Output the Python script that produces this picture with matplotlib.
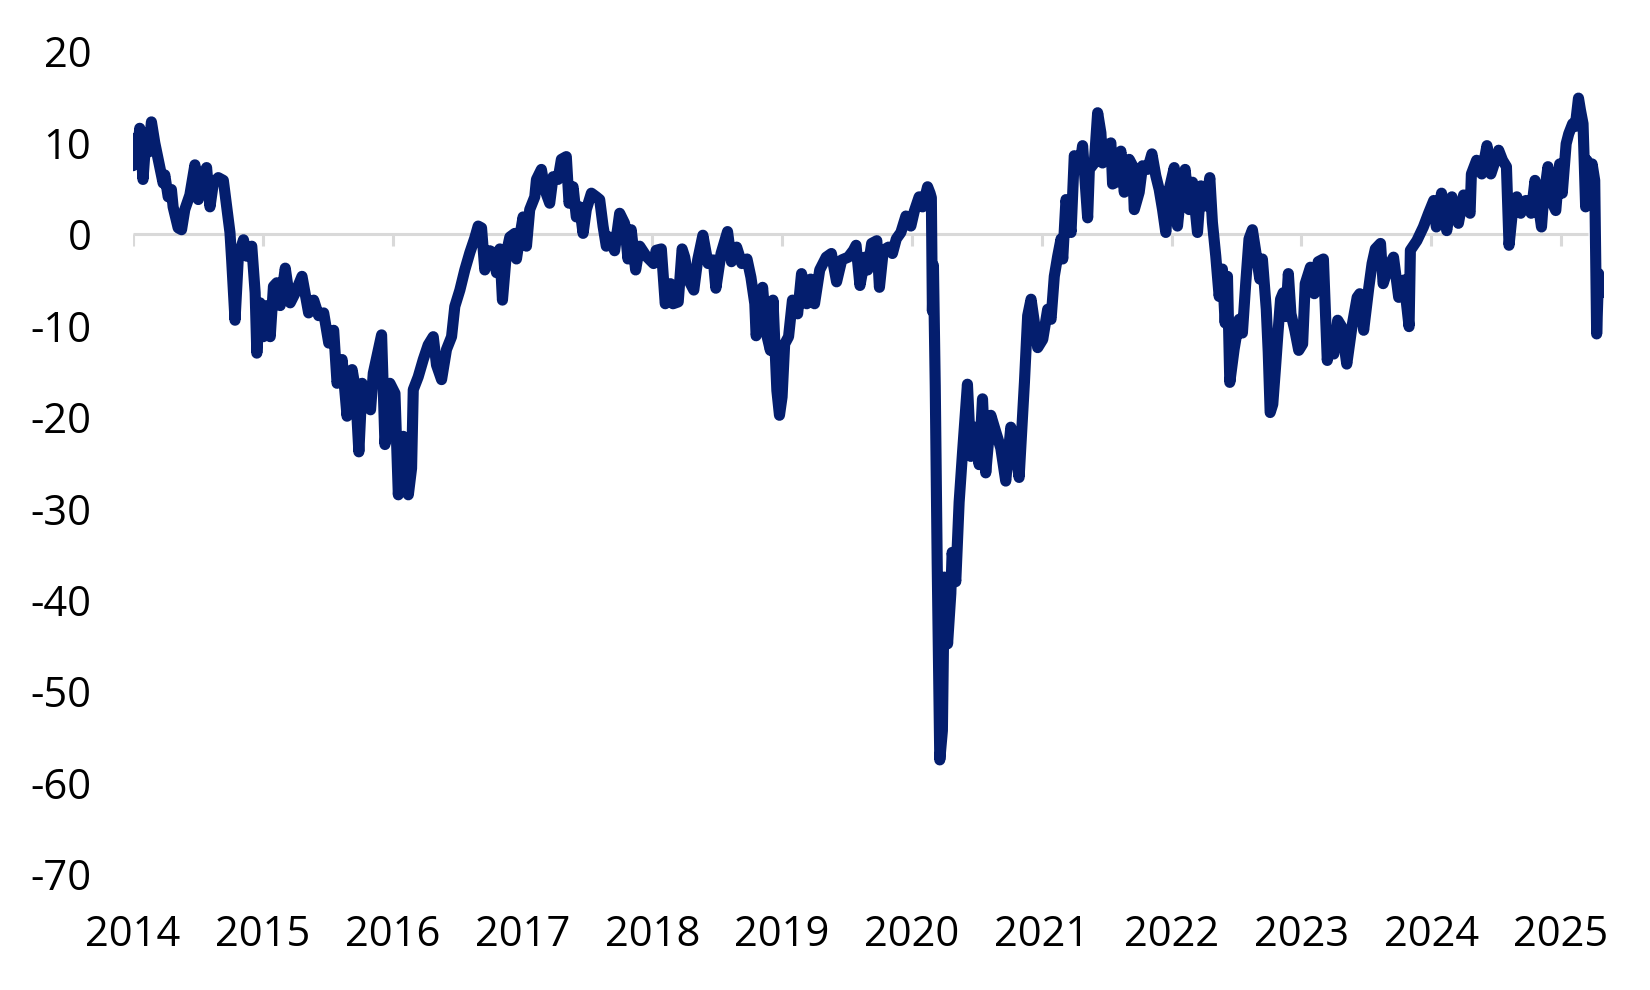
import matplotlib
matplotlib.use('Agg')
import matplotlib.pyplot as plt

plt.rcParams['font.family'] = ['Open Sans', 'DejaVu Sans']
plt.rcParams['axes.unicode_minus'] = False

# year ticks on the category axis
years = list(range(2014, 2026))

# series (decimal year, value)
t = [
    2014.000, 2014.010, 2014.030, 2014.052, 2014.077, 2014.103, 2014.120, 2014.142,
    2014.168, 2014.206, 2014.232, 2014.245, 2014.271, 2014.296, 2014.309, 2014.348,
    2014.374, 2014.399, 2014.438, 2014.477, 2014.503, 2014.528, 2014.567, 2014.593,
    2014.619, 2014.657, 2014.696, 2014.722, 2014.747, 2014.760, 2014.786, 2014.812,
    2014.851, 2014.876, 2014.915, 2014.941, 2014.954, 2014.979, 2015.005, 2015.031,
    2015.057, 2015.082, 2015.108, 2015.134, 2015.173, 2015.211, 2015.250, 2015.302,
    2015.353, 2015.392, 2015.430, 2015.469, 2015.508, 2015.546, 2015.572, 2015.611,
    2015.649, 2015.688, 2015.714, 2015.740, 2015.765, 2015.791, 2015.830,
    2015.851, 2015.915, 2015.941, 2015.979, 2016.018, 2016.044, 2016.060, 2016.082,
    2016.121, 2016.146, 2016.159, 2016.197, 2016.236, 2016.274, 2016.313, 2016.338,
    2016.377, 2016.415, 2016.454, 2016.479, 2016.518, 2016.556, 2016.595, 2016.633,
    2016.659, 2016.685, 2016.710, 2016.749, 2016.774, 2016.800, 2016.826, 2016.846,
    2016.877, 2016.903, 2016.941, 2016.954, 2016.979, 2017.005, 2017.031, 2017.056,
    2017.095, 2017.108, 2017.146, 2017.172, 2017.210, 2017.236, 2017.274, 2017.300,
    2017.338, 2017.359, 2017.390, 2017.415, 2017.441, 2017.467, 2017.492, 2017.531,
    2017.569, 2017.595, 2017.621, 2017.646, 2017.672, 2017.710, 2017.749, 2017.787,
    2017.813, 2017.838, 2017.872, 2017.903, 2017.954,
    2018.010, 2018.030, 2018.070, 2018.100, 2018.140, 2018.160, 2018.200, 2018.230,
    2018.250, 2018.280, 2018.320, 2018.350, 2018.390, 2018.430, 2018.470, 2018.490,
    2018.530, 2018.580, 2018.610, 2018.650, 2018.690, 2018.730, 2018.760, 2018.790,
    2018.800, 2018.830, 2018.850, 2018.880, 2018.910, 2018.930, 2018.960, 2018.980,
    2019.000, 2019.020, 2019.050, 2019.080, 2019.120, 2019.150, 2019.190, 2019.220,
    2019.250, 2019.290, 2019.340, 2019.380, 2019.420, 2019.460, 2019.510, 2019.550,
    2019.570, 2019.600, 2019.640, 2019.660, 2019.690, 2019.730, 2019.750, 2019.780,
    2019.820, 2019.850, 2019.880,
    2019.915, 2019.954, 2019.992, 2020.018, 2020.056, 2020.082, 2020.121, 2020.140,
    2020.150, 2020.158, 2020.166, 2020.180, 2020.195, 2020.215, 2020.235, 2020.250,
    2020.275, 2020.300, 2020.310, 2020.338, 2020.364, 2020.390, 2020.428, 2020.454,
    2020.492, 2020.518, 2020.544, 2020.569, 2020.608, 2020.646, 2020.685, 2020.723,
    2020.762, 2020.787, 2020.826,
    2020.867, 2020.892, 2020.918, 2020.944, 2020.969, 2021.008, 2021.046, 2021.072,
    2021.097, 2021.123, 2021.149, 2021.162, 2021.187, 2021.226, 2021.251, 2021.290,
    2021.315, 2021.354, 2021.367, 2021.405, 2021.431, 2021.456, 2021.469, 2021.495,
    2021.533, 2021.546, 2021.572, 2021.610, 2021.636, 2021.674, 2021.700, 2021.713,
    2021.751, 2021.777, 2021.815, 2021.849, 2021.879, 2021.905, 2021.931, 2021.956,
    2021.982, 2022.021, 2022.046, 2022.072, 2022.105, 2022.136, 2022.162, 2022.200,
    2022.226, 2022.264, 2022.295, 2022.315, 2022.341, 2022.367, 2022.392, 2022.413,
    2022.431, 2022.449, 2022.482, 2022.521, 2022.546, 2022.572, 2022.597, 2022.623,
    2022.650, 2022.680, 2022.700, 2022.730, 2022.745, 2022.760, 2022.780, 2022.800,
    2022.820, 2022.840, 2022.860, 2022.880, 2022.900, 2022.920, 2022.950, 2022.980,
    2023.010, 2023.030,
    2023.070, 2023.100, 2023.130, 2023.170, 2023.200, 2023.220, 2023.250, 2023.280,
    2023.310, 2023.350, 2023.390, 2023.430, 2023.450, 2023.480, 2023.520, 2023.545,
    2023.570, 2023.610, 2023.630, 2023.670, 2023.710, 2023.750, 2023.790, 2023.830,
    2023.840, 2023.890, 2023.940, 2023.980, 2024.020, 2024.040, 2024.080, 2024.120,
    2024.160, 2024.210, 2024.250, 2024.300, 2024.310, 2024.350, 2024.390, 2024.430,
    2024.460, 2024.520, 2024.550, 2024.580, 2024.600, 2024.630, 2024.660, 2024.690,
    2024.730, 2024.770, 2024.800, 2024.850, 2024.865, 2024.900, 2024.925, 2024.960,
    2024.990, 2025.010, 2025.040, 2025.060, 2025.090, 2025.110, 2025.135, 2025.150,
    2025.170, 2025.190, 2025.200, 2025.220, 2025.240, 2025.260, 2025.275, 2025.290,
    2025.300,
]

v = [
    7.5, 10.5, 8.0, 11.6, 6.0, 11.1, 9.0, 12.3,
    10.0, 7.4, 5.6, 6.5, 4.1, 4.9, 3.0, 0.7,
    0.5, 2.7, 4.3, 7.6, 3.8, 6.0, 7.3, 3.0,
    5.6, 6.2, 5.9, 3.0, 0.2, -2.8, -9.4, -2.4,
    -0.6, -2.4, -1.3, -6.4, -13.0, -7.5, -11.2, -7.8,
    -11.2, -5.7, -5.3, -7.8, -3.7, -7.5, -6.4, -4.6,
    -8.6, -7.2, -8.9, -8.6, -11.9, -10.5, -16.3, -13.7,
    -19.9, -14.8, -17.0, -23.8, -16.3, -17.4, -19.2,
    -15.2, -11.0, -23.0, -16.3, -17.4, -28.5, -25.0, -22.1,
    -28.5, -25.6, -17.0, -15.6, -13.7, -12.1, -11.2, -14.3,
    -15.9, -12.6, -11.2, -7.9, -6.1, -3.9, -2.0, -0.4,
    0.9, 0.7, -3.9, -1.8, -2.0, -4.2, -1.6, -7.2,
    -2.0, -0.3, 0.1, -2.7, -0.3, 1.9, -1.3, 2.7,
    4.1, 6.0, 7.1, 4.9, 3.4, 6.3, 6.0, 8.2,
    8.5, 3.4, 5.2, 1.9, 3.0, 0.1, 2.7, 4.5,
    4.1, 3.8, 0.9, -1.3, -0.3, -1.8, 2.3, 1.2,
    -2.7, 0.5, -3.9, -1.3, -2.4,
    -3.2, -1.75, -1.6, -7.6, -5.4, -7.6, -7.4, -1.6,
    -2.5, -5.0, -6.1, -2.8, -0.1, -3.2, -2.8, -5.9,
    -2.1, 0.3, -3.0, -1.4, -3.2, -2.7, -4.7, -7.6,
    -11.1, -9.1, -5.8, -10.9, -12.7, -7.2, -17.1, -19.8,
    -17.8, -12.0, -11.2, -7.2, -8.7, -4.3, -7.6, -4.9,
    -7.6, -3.9, -2.5, -2.1, -5.2, -2.8, -2.5, -1.75,
    -1.2, -5.6, -2.5, -3.9, -1.0, -0.7, -5.8, -1.75,
    -1.4, -2.1, -0.5,
    0.2, 2.0, 0.9, 2.5, 4.1, 3.0, 5.2, 4.5,
    4.0, -8.4, -3.4, -16.6, -36.0, -57.5, -54.3, -37.5,
    -44.8, -39.3, -34.8, -38.0, -29.3, -23.9, -16.4, -24.3,
    -21.1, -25.2, -18.0, -26.1, -19.8, -21.6, -23.4, -27.0,
    -21.1, -22.5, -26.6,
    -16.2, -8.9, -7.1, -9.7, -12.4, -11.5, -8.2, -9.3,
    -4.6, -2.4, -0.5, -2.7, 3.8, 0.2, 8.6, 7.1,
    9.7, 1.8, 7.1, 7.8, 13.3, 11.1, 7.8, 9.7,
    10.0, 5.5, 5.7, 9.1, 4.6, 8.2, 7.5, 2.7,
    4.6, 7.5, 7.1, 8.8, 6.4, 4.9, 2.7, 0.2,
    4.9, 7.3, 0.9, 4.6, 7.1, 2.7, 5.7, 0.2,
    5.3, 3.1, 6.2, 1.3, -2.4, -6.8, -3.8, -9.7,
    -4.6, -16.2, -12.6, -9.3, -10.8, -5.3, -0.5, 0.5,
    -2.0, -4.9, -2.7, -8.2, -12.9, -19.5, -18.6, -14.8,
    -10.8, -7.1, -6.4, -9.0, -4.3, -8.7, -10.5, -12.7,
    -12.0, -5.4,
    -3.6, -6.5, -3.0, -2.7, -13.8, -10.9, -13.1, -9.4,
    -10.1, -14.2, -10.1, -6.9, -6.5, -10.5, -5.8, -3.2,
    -1.6, -1.0, -5.4, -3.6, -2.5, -6.9, -5.0, -10.1,
    -1.75, -0.7, 0.8, 2.3, 3.7, 0.8, 4.5, 0.4,
    4.1, 1.2, 4.3, 2.3, 6.6, 8.1, 6.6, 9.7,
    6.6, 9.2, 8.1, 7.4, -1.2, 3.0, 4.1, 2.3,
    3.7, 2.3, 5.9, 0.8, 3.7, 7.4, 3.7, 2.6,
    7.7, 4.5, 9.9, 11.0, 12.1, 11.8, 14.9, 13.6,
    12.1, 3.0, 8.1, 4.5, 7.7, 5.9, -10.9, -4.3,
    -6.5,
]

fig = plt.figure(figsize=(16.5, 9.9), dpi=100)
fig.patch.set_facecolor('white')
ax = fig.add_axes([0.0806, 0.117, 0.972 - 0.0806, 0.948 - 0.117])

# zero axis line with year tick marks (Excel style, labels sit low)
ax.hlines(0, years[0], t[-1] - 0.09, color='#d9d9d9', lw=2.2, zorder=1)
ax.vlines(years, -1.3, 0, color='#d9d9d9', lw=2.2, zorder=1)

ax.plot(t, v, color='#041e6e', lw=8, solid_joinstyle='round',
        solid_capstyle='round', zorder=3)

ax.set_xlim(2014, 2025.33)
ax.set_ylim(-70, 20)
ax.set_yticks(range(-70, 21, 10))
ax.set_xticks(years)
ax.set_xticklabels([str(y) for y in years])
ax.tick_params(axis='y', length=0, labelsize=30, pad=30)
ax.tick_params(axis='x', length=0, labelsize=30, pad=29)
for s in ax.spines.values():
    s.set_visible(False)

fig.savefig('out.png', dpi=100)
plt.close(fig)
